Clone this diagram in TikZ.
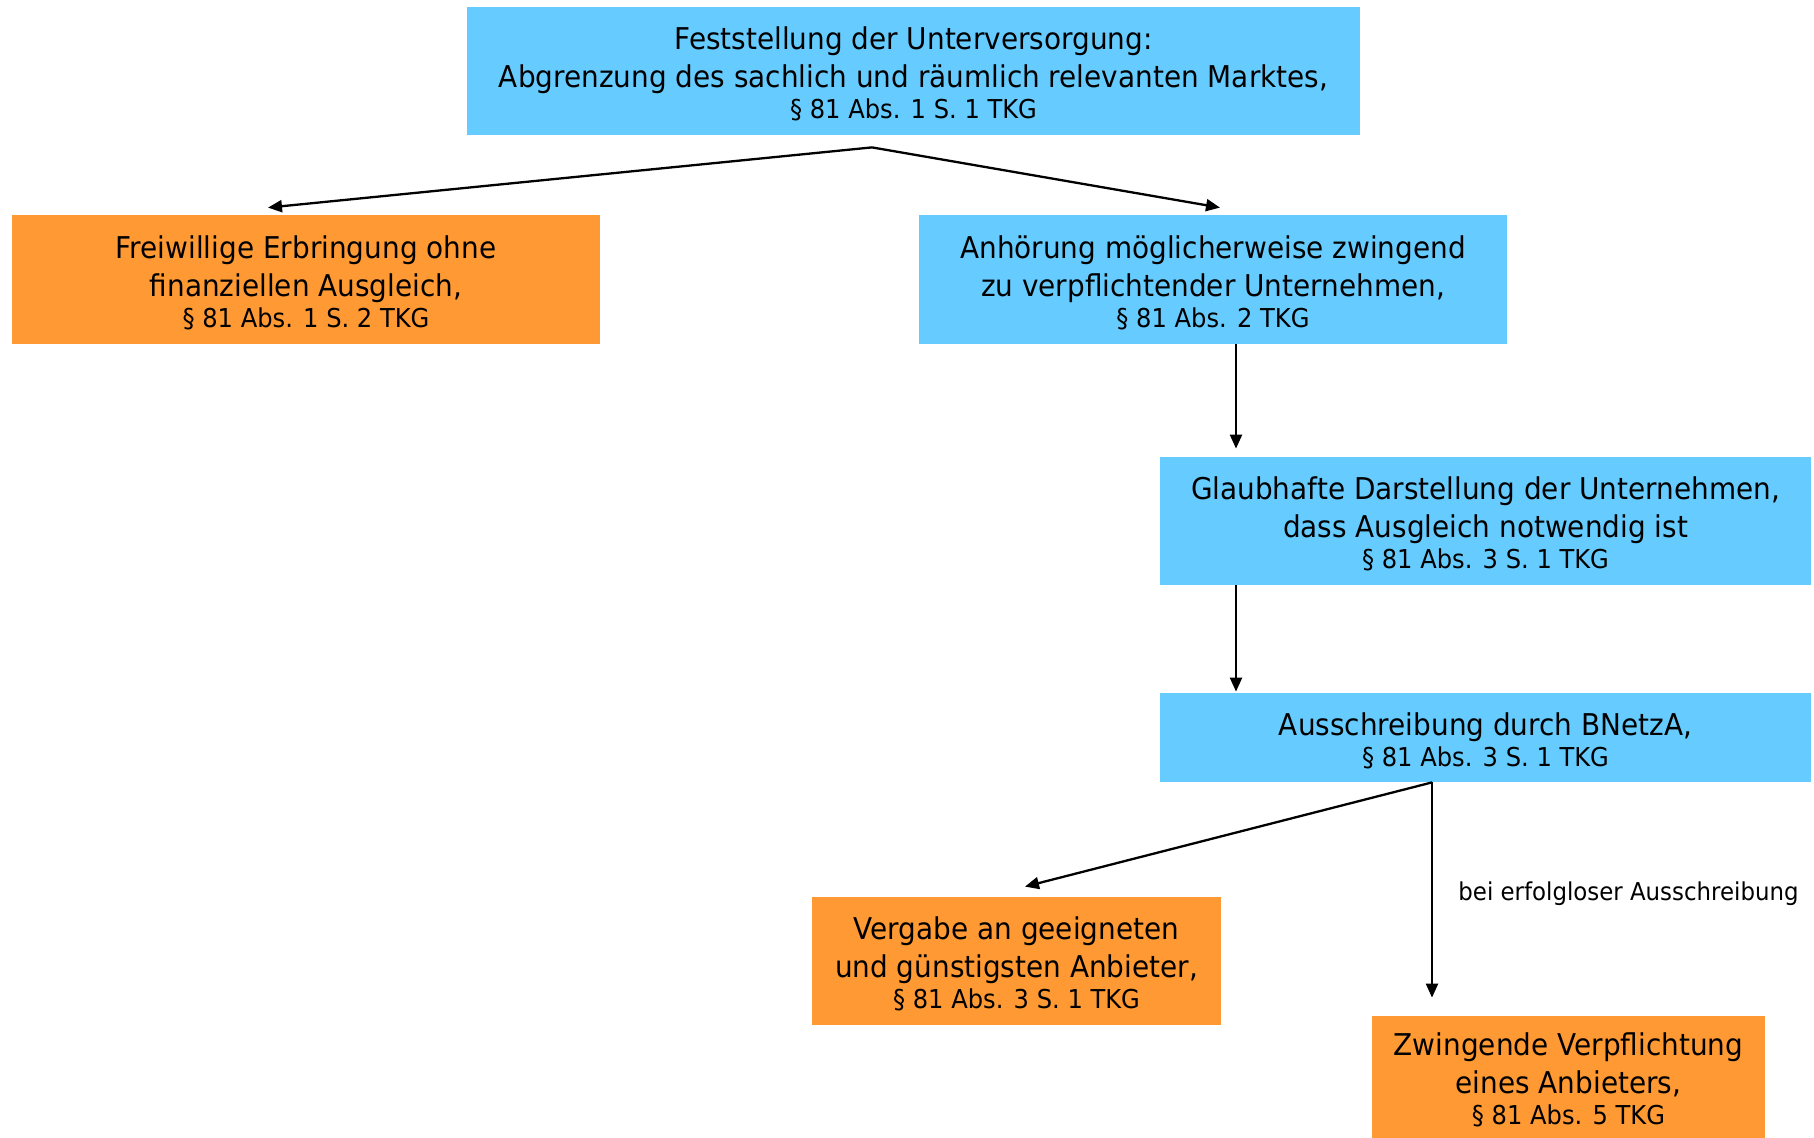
\documentclass[tikz,border=0pt]{standalone}
\usepackage{fontspec}
\setmainfont[FakeStretch=0.93]{DejaVu Sans}
\usetikzlibrary{arrows.meta,calc}
\definecolor{boxblue}{HTML}{66CCFF}
\definecolor{boxorange}{HTML}{FF9933}
\tikzset{
  box/.style={rectangle, inner sep=0pt},
  bluebox/.style={box, fill=boxblue},
  orangebox/.style={box, fill=boxorange},
  txt/.style={inner sep=0pt, align=center, font=\fontsize{15}{19}\selectfont, yshift=-1.6pt},
  arr/.style={-{Triangle[length=7pt,width=6pt]}, line width=1.15pt, black},
  lbl/.style={font=\fontsize{12.3}{14}\selectfont, anchor=west, inner sep=0pt}
}
\newcommand{\para}[1]{\\[-3.5pt]{\fontsize{13}{15}\selectfont #1}}
\begin{document}
\begin{tikzpicture}[x=0.5pt,y=-0.5pt]
\useasboundingbox (0,0) rectangle (1814,1138);
\node[bluebox, minimum width=446.5pt, minimum height=64pt] (top) at (913.5,71) {};
\node[txt] (toptext) at (top.center)
  {Feststellung der Unterversorgung:\\Abgrenzung des sachlich und räumlich relevanten Marktes,\para{§ 81 Abs. 1 S. 1 TKG}};
\node[orangebox, minimum width=294pt, minimum height=64.5pt] (frei) at (306,279.5) {};
\node[txt] (freitext) at (frei.center)
  {Freiwillige Erbringung ohne\\finanziellen Ausgleich,\para{§ 81 Abs. 1 S. 2 TKG}};
\node[bluebox, minimum width=294pt, minimum height=64.5pt] (anh) at (1213,279.5) {};
\node[txt] (anhtext) at (anh.center)
  {Anhörung möglicherweise zwingend\\zu verpflichtender Unternehmen,\para{§ 81 Abs. 2 TKG}};
\node[bluebox, minimum width=325.5pt, minimum height=64pt] (glaub) at (1485.5,521) {};
\node[txt] (glaubtext) at (glaub.center)
  {Glaubhafte Darstellung der Unternehmen,\\dass Ausgleich notwendig ist\para{§ 81 Abs. 3 S. 1 TKG}};
\node[bluebox, minimum width=325.5pt, minimum height=44.5pt] (aus) at (1485.5,737.5) {};
\node[txt] (austext) at (aus.center)
  {Ausschreibung durch BNetzA,\para{§ 81 Abs. 3 S. 1 TKG}};
\node[orangebox, minimum width=204.5pt, minimum height=64pt] (verg) at (1016.5,961) {};
\node[txt] (vergtext) at (verg.center)
  {Vergabe an geeigneten\\und günstigsten Anbieter,\para{§ 81 Abs. 3 S. 1 TKG}};
\node[orangebox, minimum width=196.5pt, minimum height=61pt] (zw) at (1568.5,1077) {};
\node[txt] (zwtext) at (zw.center)
  {Zwingende Verpflichtung\\eines Anbieters,\para{§ 81 Abs. 5 TKG}};
% connectors
\coordinate (split1) at ($(top.south)+(-41.5,12)$);
\coordinate (t1) at ($(frei.north)+(-38,-7)$);
\coordinate (t2) at ($(anh.north)+(7,-7)$);
\draw[arr] (split1) -- (t1);
\draw[arr] (split1) -- (t2);
\draw[arr] (anh.south -| 1236,0) -- ($(glaub.north -| 1236,0)+(0,-8)$);
\draw[arr] (glaub.south -| 1236,0) -- ($(aus.north -| 1236,0)+(0,-1)$);
\coordinate (split2) at (aus.south -| 1432,0);
\draw[arr] (split2) -- ($(verg.north)+(8.5,-10)$);
\draw[arr] (split2) -- ($(zw.north -| split2)+(0,-18)$);
\node[lbl] (lab) at (1458,894) {bei erfolgloser Ausschreibung};
\end{tikzpicture}
\end{document}
